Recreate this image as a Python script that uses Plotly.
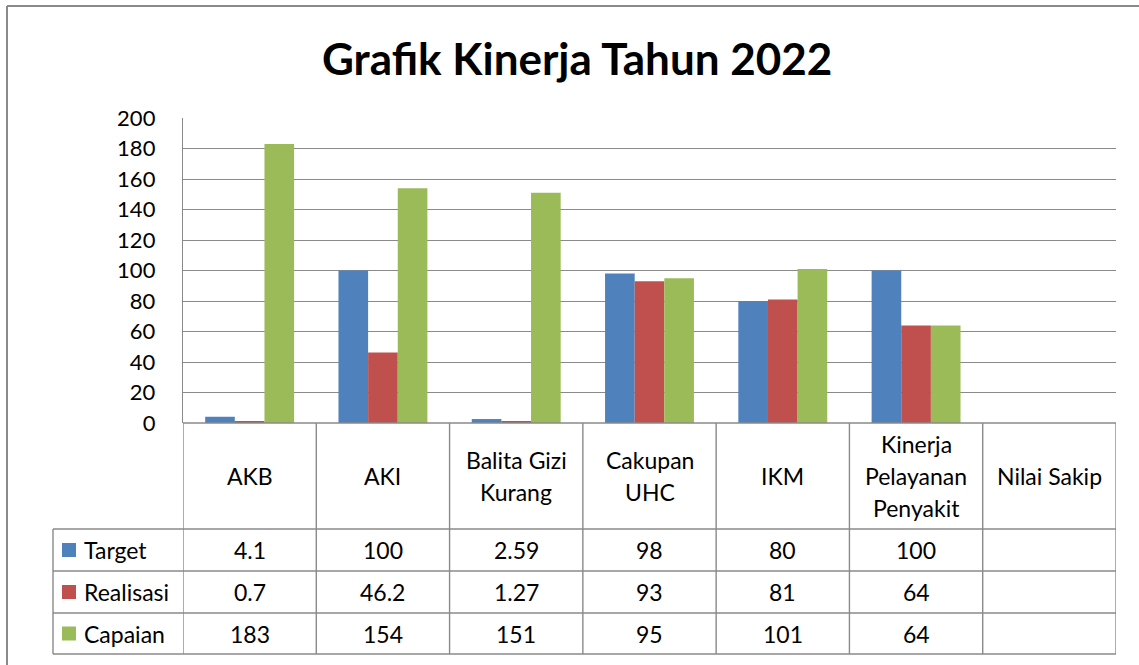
import plotly.graph_objects as go

# ---- data ----
categories = ["AKB", "AKI", "Balita Gizi Kurang", "Cakupan UHC", "IKM",
              "Kinerja Pelayanan Penyakit", "Nilai Sakip"]
category_lines = [["AKB"], ["AKI"], ["Balita Gizi", "Kurang"], ["Cakupan", "UHC"],
                  ["IKM"], ["Kinerja", "Pelayanan", "Penyakit"], ["Nilai Sakip"]]
series_names = ["Target", "Realisasi", "Capaian"]
target = [4.1, 100, 2.59, 98, 80, 100, None]
realisasi = [0.7, 46.2, 1.27, 93, 81, 64, None]
capaian = [183, 154, 151, 95, 101, 64, None]
series_values = [target, realisasi, capaian]
colors = ["#4F81BD", "#C0504D", "#9BBB59"]
y_ticks = list(range(0, 201, 20))
title_text = "Grafik Kinerja Tahun 2022"

W, H = 1139, 665
FONT = "Lato"
GRID = "#8a8a8a"
TXT = 23


def X(px):
    return px / W


def Y(py):
    return 1 - py / H


plot_left, plot_right, plot_top, plot_bottom = 183, 1116, 118, 423
row_lines = [529, 571, 613, 654]
legend_left = 53

fig = go.Figure()
for name, vals, col in zip(series_names, series_values, colors):
    fig.add_trace(go.Bar(x=categories, y=vals, name=name, marker_color=col,
                         marker_line_width=0, showlegend=False, hoverinfo="skip"))

fig.update_layout(
    template="none",
    width=W, height=H, margin=dict(l=0, r=0, t=0, b=0, pad=0, autoexpand=False),
    paper_bgcolor="white", plot_bgcolor="white",
    barmode="group", bargap=0.333, bargroupgap=0,
    font=dict(family=FONT, color="black"),
    xaxis=dict(domain=[X(plot_left), X(plot_right)], showticklabels=False,
               showgrid=False, zeroline=False, showline=False, ticks="",
               automargin=False, range=[-0.5, len(categories) - 0.5]),
    yaxis=dict(domain=[Y(plot_bottom), Y(plot_top)], range=[0, 200],
               tickvals=y_ticks, showgrid=True, gridcolor=GRID, gridwidth=1.4,
               zeroline=False, showline=True, linecolor=GRID, linewidth=1.4,
               ticks="", ticklabelstandoff=22, automargin=False,
               tickfont=dict(family=FONT, size=22, color="black")),
)

shapes = []
line = dict(color=GRID, width=1.4)
# outer chart border
shapes.append(dict(type="line", xref="paper", yref="paper", x0=X(7), x1=X(7),
                   y0=Y(6), y1=Y(H + 5), line=dict(color=GRID, width=2)))
shapes.append(dict(type="line", xref="paper", yref="paper", x0=X(7), x1=X(W + 5),
                   y0=Y(6), y1=Y(6), line=dict(color=GRID, width=2)))
# baseline of plot
shapes.append(dict(type="line", xref="paper", yref="paper", x0=X(plot_left),
                   x1=X(plot_right), y0=Y(plot_bottom), y1=Y(plot_bottom), line=line))
# vertical table lines at category boundaries
for i in range(len(categories) + 1):
    shapes.append(dict(type="line", xref="x", yref="paper", x0=i - 0.5, x1=i - 0.5,
                       y0=Y(plot_bottom), y1=Y(row_lines[-1]), line=line))
# legend column left line
shapes.append(dict(type="line", xref="paper", yref="paper", x0=X(legend_left),
                   x1=X(legend_left), y0=Y(row_lines[0]), y1=Y(row_lines[-1]), line=line))
# horizontal table lines
for ry in row_lines:
    shapes.append(dict(type="line", xref="paper", yref="paper", x0=X(legend_left),
                       x1=X(plot_right), y0=Y(ry), y1=Y(ry), line=line))

annotations = []
# title
annotations.append(dict(text="<b>" + title_text + "</b>", xref="paper", yref="paper",
                        x=X(577), y=Y(58), showarrow=False, xanchor="center",
                        yanchor="middle", font=dict(family=FONT, size=44, color="black")))
# header labels
header_mid = (plot_bottom + row_lines[0]) / 2
line_gap = 32
for cat, lines in zip(categories, category_lines):
    n = len(lines)
    for k, txt in enumerate(lines):
        yy = header_mid + (k - (n - 1) / 2) * line_gap
        annotations.append(dict(text=txt, xref="x", yref="paper", x=cat, y=Y(yy),
                                showarrow=False, xanchor="center", yanchor="middle",
                                font=dict(family=FONT, size=TXT, color="black")))


def fmt(v):
    return "" if v is None else "{:g}".format(v)


for r, (name, vals, col) in enumerate(zip(series_names, series_values, colors)):
    top, bot = row_lines[r], row_lines[r + 1]
    mid = (top + bot) / 2
    # legend key
    shapes.append(dict(type="rect", xref="paper", yref="paper", x0=X(62), x1=X(76),
                       y0=Y(mid + 7), y1=Y(mid - 7), fillcolor=col, line=dict(width=0)))
    annotations.append(dict(text=name, xref="paper", yref="paper", x=X(82), y=Y(mid),
                            showarrow=False, xanchor="left", yanchor="middle",
                            font=dict(family=FONT, size=TXT, color="black")))
    for cat, v in zip(categories, vals):
        if v is None:
            continue
        annotations.append(dict(text=fmt(v), xref="x", yref="paper", x=cat, y=Y(mid),
                                showarrow=False, xanchor="center", yanchor="middle",
                                font=dict(family=FONT, size=TXT, color="black")))

fig.update_layout(shapes=shapes, annotations=annotations)
fig.write_html("out.html", config={"displayModeBar": False},
               post_script="document.body.style.margin='0';document.body.style.padding='0';")
